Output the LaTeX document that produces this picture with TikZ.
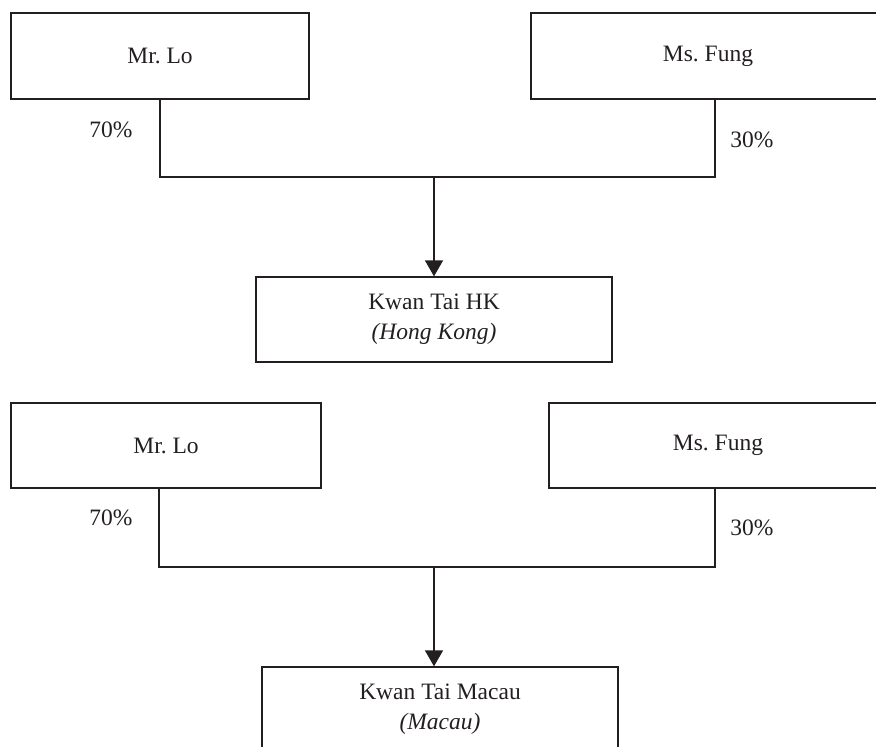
\documentclass[tikz,border=0pt]{standalone}
\usepackage{fontspec}
\setmainfont{Liberation Serif}
\usetikzlibrary{arrows.meta,positioning}
\definecolor{ink}{RGB}{35,31,32}

\begin{document}
\begin{tikzpicture}[x=1pt,y=-1pt,
    box/.style={draw=ink,line width=1.3pt,minimum height=86pt,inner sep=0pt,
                align=center,text=ink,font=\fontsize{23.5}{30}\selectfont},
    link/.style={draw=ink,line width=1.3pt},
    arr/.style={link,-{Triangle[length=16pt,width=18pt]}},
    pct/.style={text=ink,font=\fontsize{23.5}{28}\selectfont}]
                \useasboundingbox (0,0) rectangle (876,747);
                \clip (0,0) rectangle (876,747);

                \node[box,minimum width=298pt] (loA) at (160,56) {Mr.\ Lo};
                \node[box,minimum width=354pt] (fungA) at (708,56) {Ms.\ Fung};
                \node[box,minimum width=356pt,minimum height=85pt] (hk) at (434,319.5) {Kwan Tai HK\\\textit{(Hong Kong)}};
                \node[pct] (pctLoA) at (111,130) {70\%};
                \node[pct] (pctFungA) at (752,140) {30\%};
                \coordinate (midA) at (434,177);
                \draw[link] (loA.south) |- (midA) -| ([xshift=7pt]fungA.south);
                \draw[arr] (midA) -- (hk.north);

                \node[box,minimum width=310pt,minimum height=85pt] (loB) at (166,445.5) {Mr.\ Lo};
                \node[box,minimum width=338pt,minimum height=85pt] (fungB) at (718,445.5) {Ms.\ Fung};
                \node[box,minimum width=356pt,minimum height=85pt] (macau) at (440,709.5) {Kwan Tai Macau\\\textit{(Macau)}};
                \node[pct] (pctLoB) at (111,518) {70\%};
                \node[pct] (pctFungB) at (752,528) {30\%};
                \coordinate (midB) at (434,567);
                \draw[link] ([xshift=-7pt]loB.south) |- (midB) -| ([xshift=-3pt]fungB.south);
                \draw[arr] (midB) -- (midB |- macau.north);

            \end{tikzpicture}
\end{document}
